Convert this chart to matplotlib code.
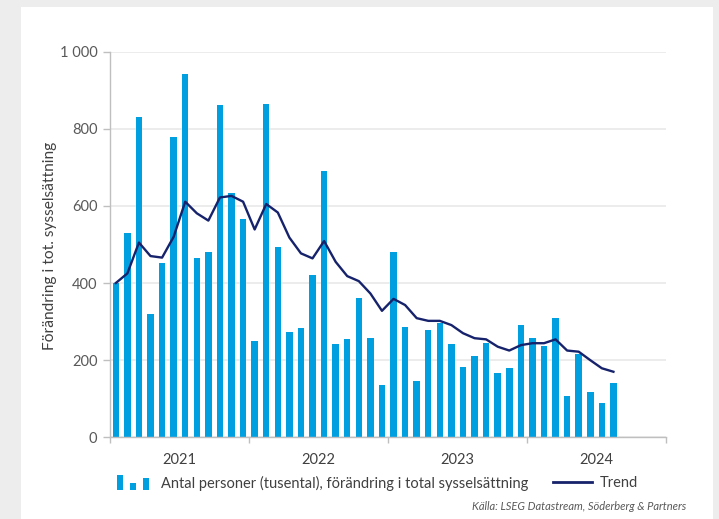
import matplotlib
matplotlib.use("Agg")
import matplotlib.pyplot as plt
import numpy as np
from matplotlib.patches import Rectangle
from matplotlib.lines import Line2D
from matplotlib.legend_handler import HandlerBase

# ---- data (monthly, Jan 2021 - Aug 2024) ----
bar_values = [400, 529, 831, 319, 451, 778, 942, 466, 480, 862, 633, 567,
              250, 865, 494, 272, 284, 421, 691, 242, 255, 362, 258, 135,
              481, 287, 146, 278, 296, 241, 183, 211, 245, 166, 181, 291,
              258, 238, 310, 108, 216, 117, 90, 142]
trend_values = [400, 425, 505, 470, 466, 520, 611, 581, 562, 622, 626, 611,
                539, 605, 583, 518, 477, 464, 509, 455, 418, 405, 373, 328,
                359, 343, 309, 302, 302, 291, 270, 257, 254, 235, 225, 239,
                244, 244, 254, 225, 222, 200, 179, 170]
year_labels = ["2021", "2022", "2023", "2024"]
y_ticks = [0, 200, 400, 600, 800, 1000]
y_tick_labels = ["0", "200", "400", "600", "800", "1 000"]
bar_label = "Antal personer (tusental), förändring i total sysselsättning"
trend_label = "Trend"
y_label = "Förändring i tot. sysselsättning"
source_text = "Källa: LSEG Datastream, Söderberg & Partners"

BAR_C = "#009fe0"
TREND_C = "#16226b"
FONT = ["Lato", "DejaVu Sans"]
plt.rcParams["font.family"] = FONT

W, H = 719, 519
fig = plt.figure(figsize=(W / 100, H / 100), dpi=100, facecolor="#eeeded")
# white panel
fig.patches.append(Rectangle((21 / W, 0), (713 - 21) / W, (H - 7) / H,
                             transform=fig.transFigure, facecolor="white",
                             edgecolor="none", zorder=-10))

ax = fig.add_axes([110 / W, (H - 437.3) / H, (665.5 - 110) / W, (437.3 - 51.7) / H])
ax.set_facecolor("none")
ax.set_zorder(2)

x = np.arange(len(bar_values))
ax.bar(x, bar_values, width=0.56, color=BAR_C, zorder=2)
ax.plot(x, trend_values, color=TREND_C, lw=1.7, zorder=3, solid_joinstyle="round")

ax.set_xlim(-0.5, 47.5)
ax.set_ylim(0, 1000)
ax.set_yticks(y_ticks)
ax.set_yticklabels(y_tick_labels)
ax.yaxis.grid(True, color="#ebebeb", lw=1.3, zorder=0)
ax.set_axisbelow(True)

ax.set_xticks([5.5, 17.5, 29.5, 41.5])
ax.set_xticklabels(year_labels)
ax.set_xticks([-0.5, 11.5, 23.5, 35.5, 47.5], minor=True)
ax.tick_params(axis="x", which="major", length=0, pad=11, labelsize=10.5, labelcolor="#404040")
ax.tick_params(axis="x", which="minor", length=4, color="#bfbfbf", width=1)
ax.tick_params(axis="y", length=5, color="#bfbfbf", width=1, pad=4, labelsize=10.5, labelcolor="#595959")

for s in ["top", "right"]:
    ax.spines[s].set_visible(False)
for s in ["left", "bottom"]:
    ax.spines[s].set_color("#bfbfbf")
    ax.spines[s].set_linewidth(1)

ax.set_ylabel(y_label, fontsize=11.2, color="#404040")
ax.yaxis.set_label_coords(-53 / (665.5 - 110), 0.496)


class BarIcon(HandlerBase):
    def create_artists(self, legend, orig_handle, xdescent, ydescent, width,
                       height, fontsize, trans):
        arts = []
        specs = [(0.0, 1.45), (0.41, 0.7), (0.82, 1.2)]
        bw = 0.18 * width
        for fx, fh in specs:
            r = Rectangle((-xdescent + fx * width, -ydescent - 0.25 * height),
                          bw, fh * height, facecolor=BAR_C, edgecolor="none",
                          transform=trans)
            arts.append(r)
        return arts


bar_handle = Rectangle((0, 0), 1, 1, facecolor=BAR_C)
trend_handle = Line2D([0], [0], color=TREND_C, lw=2)

yl = 1 - 483 / H
fig.legend([bar_handle], [bar_label], handler_map={Rectangle: BarIcon()},
           loc="center left", bbox_to_anchor=(117 / W, yl), bbox_transform=fig.transFigure,
           frameon=False, borderpad=0, borderaxespad=0, handlelength=2.2,
           handletextpad=0.8, prop={"size": 10.5, "family": FONT}, labelcolor="#404040")
fig.legend([trend_handle], [trend_label],
           loc="center left", bbox_to_anchor=(553 / W, yl), bbox_transform=fig.transFigure,
           frameon=False, borderpad=0, borderaxespad=0, handlelength=2.7,
           handletextpad=0.5, prop={"size": 10.5, "family": FONT}, labelcolor="#404040")

fig.text(686 / W, 1 - 506 / H, source_text, ha="right", va="center",
         fontsize=8, style="italic", color="#595959")

fig.savefig("out.png", dpi=100, facecolor=fig.get_facecolor())
